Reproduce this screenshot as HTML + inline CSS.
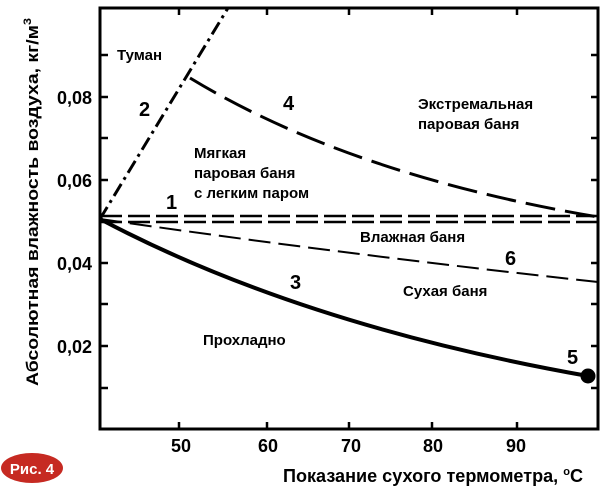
<!DOCTYPE html>
<html><head><meta charset="utf-8"><style>
html,body{margin:0;padding:0;background:#fff;}
svg{display:block;font-family:"Liberation Sans",Arial,sans-serif;font-weight:bold;}
</style></head><body>
<svg width="600" height="490" viewBox="0 0 600 490">
<rect width="600" height="490" fill="#fff"/>
<rect x="100" y="8" width="498" height="421" fill="none" stroke="#000" stroke-width="3"/>
<g stroke="#000" stroke-width="2.5">
<line x1="179" y1="429" x2="179" y2="422"/><line x1="267" y1="429" x2="267" y2="422"/>
<line x1="349" y1="429" x2="349" y2="422"/><line x1="432" y1="429" x2="432" y2="422"/>
<line x1="517" y1="429" x2="517" y2="422"/>
<line x1="179" y1="8" x2="179" y2="15"/><line x1="267" y1="8" x2="267" y2="15"/>
<line x1="349" y1="8" x2="349" y2="15"/><line x1="432" y1="8" x2="432" y2="15"/>
<line x1="517" y1="8" x2="517" y2="15"/>
<line x1="100" y1="55" x2="108" y2="55"/><line x1="100" y1="97" x2="108" y2="97"/>
<line x1="100" y1="138" x2="108" y2="138"/><line x1="100" y1="180" x2="108" y2="180"/>
<line x1="100" y1="221" x2="108" y2="221"/><line x1="100" y1="263" x2="108" y2="263"/>
<line x1="100" y1="304" x2="108" y2="304"/><line x1="100" y1="346" x2="108" y2="346"/>
<line x1="100" y1="388" x2="108" y2="388"/>
<line x1="598" y1="55" x2="591" y2="55"/><line x1="598" y1="97" x2="591" y2="97"/>
<line x1="598" y1="138" x2="591" y2="138"/><line x1="598" y1="180" x2="591" y2="180"/>
<line x1="598" y1="263" x2="591" y2="263"/>
<line x1="598" y1="304" x2="591" y2="304"/><line x1="598" y1="346" x2="591" y2="346"/>
<line x1="598" y1="388" x2="591" y2="388"/>
</g>
<g font-size="18" text-anchor="middle">
<text x="181" y="452">50</text><text x="268" y="452">60</text><text x="351" y="452">70</text>
<text x="433" y="452">80</text><text x="516" y="452">90</text>
</g>
<g font-size="18" text-anchor="end">
<text x="92" y="104">0,08</text><text x="92" y="187">0,06</text>
<text x="92" y="270">0,04</text><text x="92" y="353">0,02</text>
</g>
<text x="283" y="482" font-size="18" textLength="300" lengthAdjust="spacingAndGlyphs">Показание сухого термометра, <tspan font-size="11" dy="-7">o</tspan><tspan dy="7">C</tspan></text>
<text transform="translate(38,386) rotate(-90)" font-size="17" textLength="368" lengthAdjust="spacingAndGlyphs">Абсолютная влажность воздуха, кг/м<tspan font-size="11" dy="-7">3</tspan></text>
<ellipse cx="32" cy="468" rx="31" ry="15" fill="#c62a22"/>
<text x="32" y="474" font-size="15" fill="#fff" text-anchor="middle">Рис. 4</text>
<g fill="none" stroke="#000">
<line x1="100" y1="216" x2="598" y2="216" stroke-width="2.5" stroke-dasharray="22,6"/>
<line x1="100" y1="222" x2="598" y2="222" stroke-width="2.5" stroke-dasharray="22,6"/>
<line x1="100" y1="219" x2="228" y2="8" stroke-width="3" stroke-dasharray="14,5,3,5"/>
<path d="M190,78 Q350,175 598,217" stroke-width="3" stroke-dasharray="30,10"/>
<path d="M100,219 Q350,255 598,282" stroke-width="2" stroke-dasharray="22,8"/>
<path d="M100,219 Q300,325 588,376" stroke-width="4"/>
</g>
<circle cx="588" cy="376" r="7.5" fill="#000"/>
<g font-size="15">
<text x="117" y="60">Туман</text>
<text x="194" y="158">Мягкая</text>
<text x="194" y="178">паровая баня</text>
<text x="194" y="198">с легким паром</text>
<text x="418" y="109">Экстремальная</text>
<text x="418" y="129">паровая баня</text>
<text x="360" y="242">Влажная баня</text>
<text x="403" y="296">Сухая баня</text>
<text x="203" y="345">Прохладно</text>
</g>
<g font-size="20">
<text x="139" y="116">2</text><text x="283" y="110">4</text><text x="166" y="209">1</text>
<text x="505" y="265">6</text><text x="290" y="289">3</text><text x="567" y="364">5</text>
</g>
</svg>
</body></html>
